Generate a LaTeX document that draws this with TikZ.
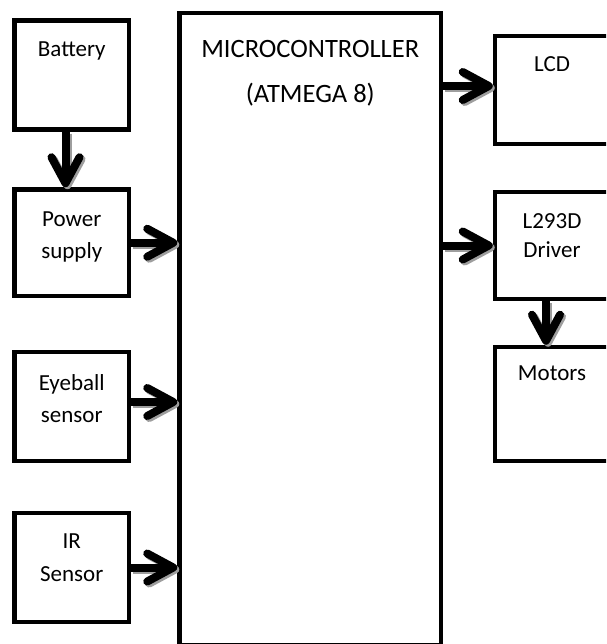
\documentclass[tikz,border=0pt]{standalone}
\usepackage{fontspec}
\setmainfont{Carlito}
\usetikzlibrary{arrows.meta}
\definecolor{shadowgray}{HTML}{9E9E9E}
\newcommand\shadowlink[2]{%
  \draw[conn, draw=shadowgray, transform canvas={shift={(2pt,-2pt)}}] #1 -- #2;
  \draw[conn] #1 -- #2;}
\begin{document}
\begin{tikzpicture}[x=1pt,y=-1pt,
  box/.style={draw=black, line width=4.5pt, inner sep=0pt, rectangle},
  conn/.style={line width=8pt, draw=black,
    -{Straight Barb[length=26pt,width=28pt,line width=8pt,round]}},
  lbl/.style={font=\fontsize{23}{28}\selectfont, anchor=base, inner sep=0pt},
  biglbl/.style={font=\fontsize{26.5}{32}\selectfont, anchor=base, inner sep=0pt}]
\useasboundingbox (0,0) rectangle (606,644);
\clip (0,0) rectangle (606,644);
\fill[white] (0,0) rectangle (606,644);
% boxes
\node[box, minimum width=114.5pt, minimum height=109pt] (battery) at (71.75,75) {};
\node[box, minimum width=114.5pt, minimum height=106.5pt] (power) at (71.75,242.75) {};
\node[box, minimum width=114.5pt, minimum height=109pt] (eyeball) at (71.75,406.5) {};
\node[box, minimum width=114.5pt, minimum height=109pt] (ir) at (71.75,567.5) {};
\node[box, minimum width=261.5pt, minimum height=632.5pt] (micro) at (310.25,329.25) {};
\node[box, minimum width=114pt, minimum height=108pt] (lcd) at (552,90) {};
\node[box, minimum width=114pt, minimum height=107pt] (driver) at (552,245.5) {};
\node[box, minimum width=114pt, minimum height=114pt] (motors) at (552,404) {};
% labels
\node[lbl] (tbat) at (71.75,57) {Battery};
\node[lbl] (tpow1) at (71.75,226) {Power};
\node[lbl] (tpow2) at (71.75,258) {supply};
\node[lbl] (teye1) at (71.75,390) {Eyeball};
\node[lbl] (teye2) at (71.75,422) {sensor};
\node[lbl] (tir1) at (71.75,548) {IR};
\node[lbl] (tir2) at (71.75,581) {Sensor};
\node[biglbl] (tmic1) at (310.25,58) {MICROCONTROLLER};
\node[biglbl] (tmic2) at (310.25,103) {(ATMEGA 8)};
\node[lbl] (tlcd) at (552,72) {LCD};
\node[lbl] (tdrv1) at (552,228) {L293D};
\node[lbl] (tdrv2) at (552,257) {Driver};
\node[lbl] (tmot) at (552,380) {Motors};
% connectors
\shadowlink{([xshift=-6.25pt]battery.south)}{([xshift=-6.25pt]power.north)}
\shadowlink{(power.east)}{(power.east -| micro.west)}
\shadowlink{([yshift=4.5pt]eyeball.east)}{([yshift=4.5pt]eyeball.east -| micro.west)}
\shadowlink{(ir.east)}{(ir.east -| micro.west)}
\shadowlink{([yshift=4pt]lcd.west -| micro.east)}{([yshift=4pt]lcd.west)}
\shadowlink{(driver.west -| micro.east)}{(driver.west)}
\shadowlink{([xshift=-6pt]driver.south)}{([xshift=-6pt]motors.north)}
\end{tikzpicture}
\end{document}
